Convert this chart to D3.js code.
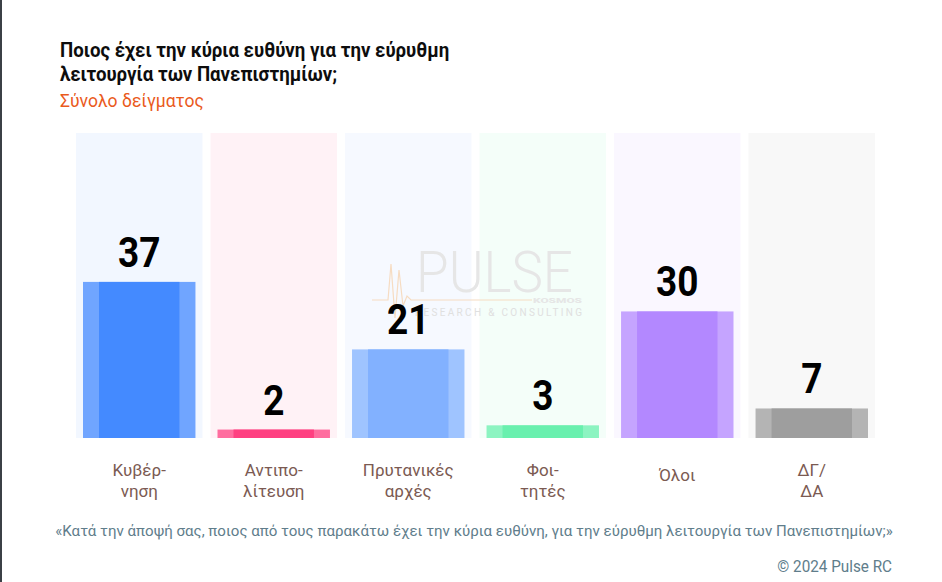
<!DOCTYPE html>
<html>
<head>
<meta charset="utf-8">
<script src="https://cdn.jsdelivr.net/npm/d3@7"></script>
<style>
  html, body { margin: 0; padding: 0; background: #fff; }
  svg { display: block; font-family: Roboto, "Noto Sans", sans-serif; }
</style>
</head>
<body>
<script>
// ---- data ----
var categories = ["Κυβέρνηση", "Αντιπολίτευση", "Πρυτανικές αρχές", "Φοιτητές", "Όλοι", "ΔΓ/ΔΑ"];
var tickLines = [["Κυβέρ-", "νηση"], ["Αντιπο-", "λίτευση"], ["Πρυτανικές", "αρχές"], ["Φοι-", "τητές"], ["Όλοι"], ["ΔΓ/", "ΔΑ"]];
var values = [37, 2, 21, 3, 30, 7];
var colors = ["#448aff", "#ff4081", "#82b1ff", "#69f0ae", "#b388ff", "#9e9e9e"];
var titleLines = ["Ποιος έχει την κύρια ευθύνη για την εύρυθμη", "λειτουργία των Πανεπιστημίων;"];
var subtitle = "Σύνολο δείγματος";
var footnote = "«Κατά την άποψή σας, ποιος από τους παρακάτω έχει την κύρια ευθύνη, για την εύρυθμη λειτουργία των Πανεπιστημίων;»";
var credit = "© 2024 Pulse RC";

var W = 942, H = 582;
var plotTop = 133, plotBottom = 438, plotLeft = 76, plotRight = 875;
var yMax = 72.3;

var svg = d3.select("body").append("svg")
    .attr("width", W)
    .attr("height", H);

// dark rule on the left edge
svg.append("rect")
    .attr("x", 0).attr("y", 0)
    .attr("width", 2).attr("height", H)
    .attr("fill", "#3b4046");

var x = d3.scaleBand()
    .domain(categories)
    .range([plotLeft, plotRight])
    .paddingInner(0.06);
var y = d3.scaleLinear()
    .domain([0, yMax])
    .range([plotBottom, plotTop]);
var bw = x.bandwidth();

// no condensed face installed, so squeeze Roboto a little sideways
function squeezed(parent, px, py, k) {
    return parent.append("text")
        .attr("transform", "translate(" + px + "," + py + ") scale(" + k + ",1)");
}

// title + subtitle
titleLines.forEach(function (line, i) {
    squeezed(svg, 60, 57 + i * 24, 0.933)
        .attr("font-size", 20)
        .attr("font-weight", 700)
        .attr("fill", "#0d0d0d")
        .text(line);
});
squeezed(svg, 60, 106.5, 0.974)
    .attr("font-size", 18)
    .attr("fill", "#ea5a1c")
    .text(subtitle);

// pale column backgrounds
svg.append("g").selectAll("rect")
    .data(categories)
    .join("rect")
    .attr("x", function (d) { return x(d); })
    .attr("y", y(yMax))
    .attr("width", bw)
    .attr("height", y(0) - y(yMax))
    .attr("fill", function (d, i) { return colors[i]; })
    .attr("fill-opacity", 0.07);

// watermark (logo)
var wm = svg.append("g").attr("pointer-events", "none");
var beat = [[372, 300], [388, 300], [391, 264], [395, 318], [399, 270], [403, 306], [407, 296], [411, 300], [532, 300]];
wm.append("path")
    .attr("d", d3.line()(beat))
    .attr("fill", "none")
    .attr("stroke", "#f6dcc2")
    .attr("stroke-width", 1.2);
var logo = wm.append("text").attr("fill", "#e6e6e6");
logo.append("tspan")
    .attr("x", 416).attr("y", 291.5)
    .attr("font-size", 57)
    .attr("font-weight", 300)
    .attr("textLength", 157)
    .attr("lengthAdjust", "spacingAndGlyphs")
    .text("PULSE");
logo.append("tspan")
    .attr("x", 533).attr("y", 303)
    .attr("font-size", 7)
    .attr("font-weight", 900)
    .attr("textLength", 49)
    .attr("lengthAdjust", "spacingAndGlyphs")
    .text("KOSMOS");
wm.append("text")
    .attr("x", 415).attr("y", 316)
    .attr("font-size", 10)
    .attr("fill", "#e0e0e0")
    .attr("textLength", 167)
    .attr("lengthAdjust", "spacing")
    .text("RESEARCH & CONSULTING");

// bars: translucent outer block with a solid inner core
var bars = svg.append("g");
bars.selectAll("rect.outer")
    .data(values)
    .join("rect")
    .attr("class", "outer")
    .attr("x", function (d, i) { return x(categories[i]) + 7; })
    .attr("y", function (d) { return y(d); })
    .attr("width", bw - 14)
    .attr("height", function (d) { return y(0) - y(d); })
    .attr("fill", function (d, i) { return colors[i]; })
    .attr("fill-opacity", 0.75);
bars.selectAll("rect.inner")
    .data(values)
    .join("rect")
    .attr("class", "inner")
    .attr("x", function (d, i) { return x(categories[i]) + 23; })
    .attr("y", function (d) { return y(d); })
    .attr("width", bw - 46)
    .attr("height", function (d) { return y(0) - y(d); })
    .attr("fill", function (d, i) { return colors[i]; });

// value labels
values.forEach(function (v, i) {
    squeezed(svg, x(categories[i]) + bw / 2, y(v) - 15, 0.88)
        .attr("text-anchor", "middle")
        .attr("font-size", 42)
        .attr("font-weight", 700)
        .attr("fill", "#000")
        .text(v);
});

// category axis
var axis = svg.append("g")
    .attr("transform", "translate(0," + plotBottom + ")")
    .call(d3.axisBottom(x).tickSize(0));
axis.select(".domain").remove();
axis.attr("font-family", null).attr("font-size", null);
axis.selectAll(".tick text").each(function (d, i) {
    var t = d3.select(this)
        .attr("y", null).attr("dy", null)
        .attr("font-size", 17)
        .attr("fill", "#7b5a52")
        .text(null);
    var lines = tickLines[i];
    lines.forEach(function (line, j) {
        t.append("tspan")
            .attr("x", 0)
            .attr("y", lines.length > 1 ? 37.5 + j * 21 : 43)
            .text(line);
    });
});

// footnote + credit
squeezed(svg, 474, 535.5, 0.973)
    .attr("text-anchor", "middle")
    .attr("font-size", 15.5)
    .attr("fill", "#607d8b")
    .text(footnote);
squeezed(svg, 892, 571.5, 0.955)
    .attr("text-anchor", "end")
    .attr("font-size", 16)
    .attr("fill", "#607d8b")
    .text(credit);
</script>
</body>
</html>
